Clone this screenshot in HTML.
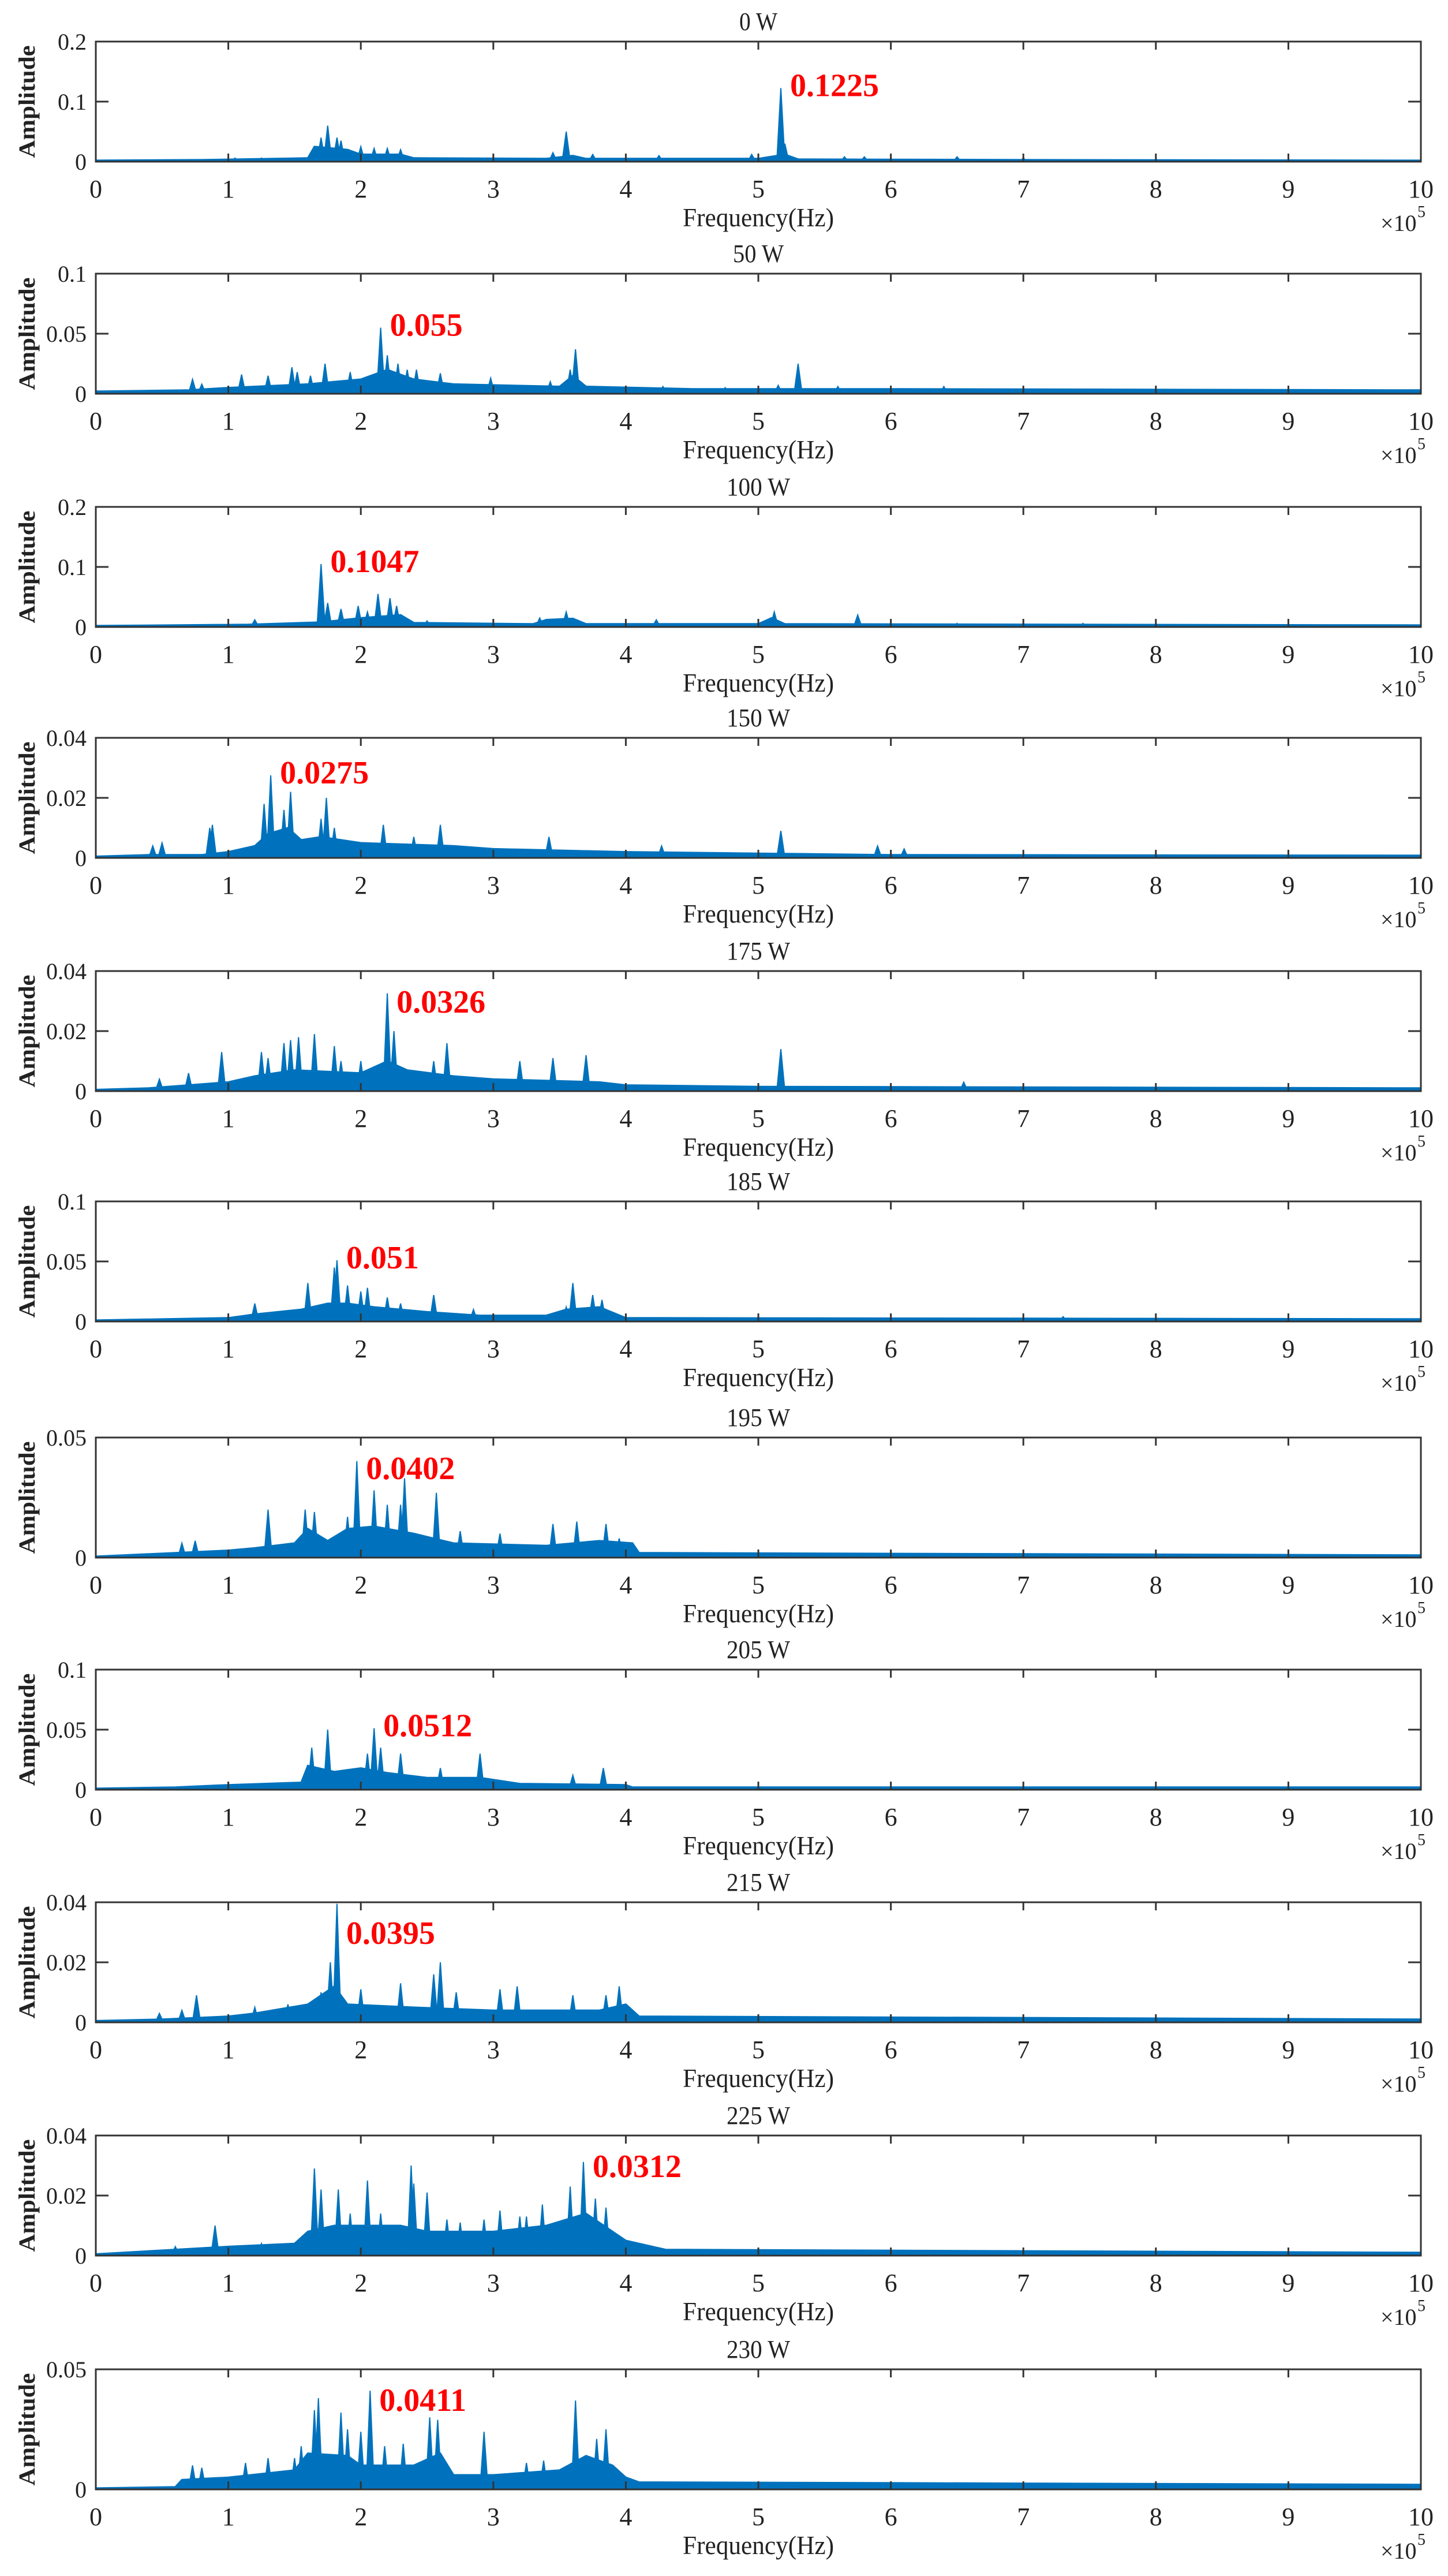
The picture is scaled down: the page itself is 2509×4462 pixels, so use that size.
<!DOCTYPE html>
<html><head><meta charset="utf-8">
<style>
html,body{margin:0;padding:0;background:#fff;}
svg{display:block;}
text{font-family:"Liberation Serif",serif;}
</style></head>
<body>
<svg id="fig" width="2509" height="4462" viewBox="0 0 2509 4462" xmlns="http://www.w3.org/2000/svg"></svg>
<script>
// ---- data ----
const panelTitles = ["0 W","50 W","100 W","150 W","175 W","185 W","195 W","205 W","215 W","225 W","230 W"];
const yMaxValues = [0.2,0.1,0.2,0.04,0.04,0.1,0.05,0.1,0.04,0.04,0.05];
const yTickValues = [[0,0.1,0.2],[0,0.05,0.1],[0,0.1,0.2],[0,0.02,0.04],[0,0.02,0.04],[0,0.05,0.1],[0,0.05],[0,0.05,0.1],[0,0.02,0.04],[0,0.02,0.04],[0,0.05]];
const xTickValues = [0,1,2,3,4,5,6,7,8,9,10];
const peakLabels = ["0.1225","0.055","0.1047","0.0275","0.0326","0.051","0.0402","0.0512","0.0395","0.0312","0.0411"];
const peakFreqs = [5.17,2.15,1.70,1.32,2.20,1.82,1.97,2.10,1.82,3.68,2.07];

const floor0 = [[0,0.002],[0.8,0.003],[1.6,0.006],[1.65,0.025],[1.9,0.02],[2.0,0.012],[2.3,0.012],[2.4,0.006],[3.4,0.005],[3.6,0.01],[3.7,0.005],[5.0,0.005],[5.2,0.012],[5.3,0.004],[7,0.003],[10,0.002]];
const spikes0 = [[1.05,0.006],[1.25,0.006],[1.7,0.04],[1.75,0.06],[1.82,0.04],[1.85,0.035],[2.0,0.025],[2.1,0.022],[2.2,0.022],[2.3,0.02],[3.45,0.015],[3.55,0.05],[3.75,0.012],[4.25,0.01],[4.95,0.012],[5.17,0.1225],[5.2,0.03],[5.65,0.008],[5.8,0.008],[6.5,0.008],[7.0,0.006]];
const floor1 = [[0,0.002],[0.7,0.003],[1.0,0.005],[1.6,0.008],[2.0,0.012],[2.2,0.02],[2.4,0.012],[2.7,0.008],[3.5,0.006],[3.6,0.015],[3.7,0.006],[4.5,0.004],[6,0.004],[10,0.003]];
const spikes1 = [[0.73,0.012],[0.8,0.008],[1.1,0.016],[1.3,0.015],[1.48,0.022],[1.52,0.018],[1.62,0.015],[1.73,0.025],[1.92,0.018],[2.15,0.055],[2.2,0.032],[2.28,0.025],[2.35,0.02],[2.42,0.02],[2.6,0.017],[2.98,0.013],[3.43,0.01],[3.58,0.02],[3.62,0.037],[4.28,0.006],[4.75,0.005],[5.15,0.007],[5.3,0.025],[5.6,0.006],[6.4,0.006]];
const floor2 = [[0,0.002],[1.15,0.004],[1.7,0.008],[2.0,0.015],[2.3,0.02],[2.4,0.007],[3.3,0.005],[3.4,0.012],[3.6,0.014],[3.7,0.005],[5,0.005],[5.1,0.015],[5.2,0.005],[10,0.003]];
const spikes2 = [[1.2,0.012],[1.7,0.1047],[1.75,0.04],[1.85,0.03],[1.98,0.035],[2.05,0.025],[2.13,0.055],[2.22,0.048],[2.27,0.035],[2.5,0.01],[3.35,0.015],[3.55,0.025],[4.23,0.012],[5.12,0.025],[5.75,0.02],[6.5,0.006],[7.0,0.006],[7.45,0.006]];
const floor3 = [[0,0.0005],[0.4,0.001],[0.8,0.001],[1.0,0.002],[1.2,0.004],[1.3,0.008],[1.45,0.01],[1.55,0.006],[1.7,0.007],[1.85,0.006],[2.0,0.005],[2.7,0.004],[3,0.003],[4,0.002],[5,0.0015],[6,0.001],[10,0.0008]];
const spikes3 = [[0.43,0.004],[0.5,0.005],[0.86,0.01],[0.88,0.011],[1.27,0.018],[1.32,0.0275],[1.42,0.016],[1.47,0.022],[1.7,0.013],[1.74,0.02],[1.8,0.01],[2.17,0.011],[2.4,0.007],[2.6,0.011],[3.42,0.007],[4.27,0.004],[5.17,0.009],[5.9,0.004],[6.1,0.003]];
const floor4 = [[0,0.0005],[0.4,0.001],[1.0,0.003],[1.2,0.005],[1.5,0.007],[2.0,0.006],[2.2,0.01],[2.35,0.007],[2.7,0.005],[3.0,0.004],[3.8,0.003],[4.0,0.002],[5,0.0015],[10,0.001]];
const spikes4 = [[0.48,0.004],[0.7,0.006],[0.95,0.013],[1.25,0.013],[1.3,0.011],[1.42,0.016],[1.47,0.017],[1.53,0.018],[1.65,0.019],[1.8,0.015],[1.85,0.01],[2.0,0.01],[2.2,0.0326],[2.25,0.02],[2.55,0.01],[2.65,0.016],[3.2,0.01],[3.45,0.011],[3.7,0.012],[5.17,0.014],[6.55,0.003]];
const floor5 = [[0,0.001],[1.0,0.003],[1.2,0.006],[1.55,0.01],[1.75,0.015],[1.9,0.015],[2.1,0.012],[2.5,0.008],[2.9,0.005],[3.4,0.005],[3.55,0.01],[3.8,0.012],[4.0,0.003],[10,0.002]];
const spikes5 = [[1.2,0.015],[1.6,0.032],[1.8,0.045],[1.82,0.051],[1.9,0.03],[2.0,0.025],[2.05,0.028],[2.2,0.02],[2.3,0.015],[2.55,0.022],[2.85,0.01],[3.55,0.012],[3.6,0.032],[3.75,0.022],[3.82,0.018],[7.3,0.004]];
const floor6 = [[0,0.0005],[0.6,0.002],[1.0,0.003],[1.2,0.004],[1.5,0.006],[1.6,0.012],[1.75,0.007],[1.9,0.012],[2.1,0.013],[2.4,0.01],[2.7,0.006],[3.4,0.005],[3.8,0.007],[4.05,0.006],[4.1,0.002],[10,0.001]];
const spikes6 = [[0.65,0.006],[0.75,0.007],[1.3,0.02],[1.58,0.02],[1.65,0.019],[1.9,0.017],[1.97,0.0402],[2.1,0.028],[2.2,0.022],[2.3,0.022],[2.33,0.033],[2.57,0.027],[2.75,0.011],[3.05,0.01],[3.45,0.014],[3.63,0.015],[3.85,0.014],[3.95,0.008]];
const floor7 = [[0,0.001],[0.6,0.002],[1.0,0.004],[1.55,0.006],[1.6,0.02],[1.8,0.015],[2.0,0.018],[2.2,0.014],[2.5,0.01],[2.9,0.01],[3.2,0.005],[4.0,0.004],[4.05,0.002],[10,0.002]];
const spikes7 = [[1.63,0.035],[1.75,0.05],[1.88,0.015],[2.05,0.03],[2.1,0.0512],[2.15,0.035],[2.3,0.03],[2.6,0.018],[2.9,0.03],[3.6,0.012],[3.83,0.018]];
const floor8 = [[0,0.0005],[0.5,0.001],[1.0,0.002],[1.2,0.003],[1.6,0.006],[1.8,0.012],[1.9,0.006],[2.4,0.005],[3,0.004],[3.8,0.004],[4.0,0.006],[4.1,0.002],[10,0.001]];
const spikes8 = [[0.48,0.003],[0.65,0.004],[0.76,0.009],[1.2,0.005],[1.45,0.006],[1.7,0.01],[1.77,0.02],[1.82,0.0395],[2.0,0.011],[2.3,0.013],[2.55,0.016],[2.6,0.02],[2.72,0.01],[3.05,0.011],[3.18,0.012],[3.6,0.009],[3.85,0.009],[3.95,0.012]];
const floor9 = [[0,0.0005],[0.6,0.002],[1.0,0.003],[1.5,0.004],[1.6,0.008],[1.8,0.01],[2.3,0.01],[2.5,0.008],[3.0,0.008],[3.4,0.01],[3.7,0.014],[3.9,0.008],[4.0,0.005],[4.3,0.002],[10,0.001]];
const spikes9 = [[0.6,0.003],[0.9,0.01],[1.25,0.004],[1.65,0.029],[1.7,0.022],[1.83,0.022],[1.92,0.014],[2.05,0.025],[2.15,0.014],[2.38,0.03],[2.4,0.024],[2.5,0.021],[2.65,0.012],[2.75,0.011],[2.93,0.012],[3.05,0.015],[3.2,0.013],[3.25,0.013],[3.37,0.017],[3.58,0.023],[3.68,0.0312],[3.77,0.019],[3.85,0.016]];
const floor10 = [[0,0.0005],[0.6,0.001],[0.65,0.004],[1.0,0.005],[1.5,0.008],[1.6,0.015],[1.9,0.014],[2.0,0.01],[2.4,0.01],[2.6,0.015],[2.7,0.006],[3,0.006],[3.5,0.008],[3.7,0.014],[3.9,0.01],[4.0,0.005],[4.1,0.003],[10,0.002]];
const spikes10 = [[0.73,0.01],[0.8,0.009],[1.13,0.011],[1.3,0.013],[1.5,0.013],[1.55,0.018],[1.65,0.033],[1.68,0.038],[1.85,0.032],[1.9,0.025],[2.0,0.024],[2.07,0.0411],[2.18,0.018],[2.32,0.019],[2.52,0.03],[2.58,0.029],[2.93,0.024],[3.25,0.011],[3.38,0.012],[3.62,0.037],[3.78,0.021],[3.85,0.025]];

const floors = [floor0,floor1,floor2,floor3,floor4,floor5,floor6,floor7,floor8,floor9,floor10];
const spikes = [spikes0,spikes1,spikes2,spikes3,spikes4,spikes5,spikes6,spikes7,spikes8,spikes9,spikes10];

// ---- layout ----
const NS = "http://www.w3.org/2000/svg";
const svg = document.getElementById('fig');
const L = 166, R = 2462, H = 208;
const panelTops = [72,474,878,1278,1682,2081,2490,2892,3295,3699,4104];
const BLUE = "#0072BD";
function mk(tag, attrs, parent){
  const e = document.createElementNS(NS, tag);
  for (const k in attrs) e.setAttribute(k, attrs[k]);
  (parent||svg).appendChild(e);
  return e;
}
function fmt(v){ return String(v); }

panelTitles.forEach((title, i) => {
  const top = panelTops[i], bot = top + H, ymax = yMaxValues[i];
  const xs = f => L + (f / 10) * (R - L);
  const ys = a => bot - Math.min(a, ymax) / ymax * H;

  const g = mk('g', {});
  
  

  const t = mk('text', {x: (L+R)/2, y: top - 20, 'text-anchor':'middle', 'font-size':44, fill:'#222', textLength: title.length*22, lengthAdjust:'spacingAndGlyphs'}, g);
  t.textContent = title;
  
  

  let d = 'M' + xs(0) + ',' + bot;
  floors[i].forEach(p => { d += ' L' + xs(p[0]).toFixed(1) + ',' + ys(p[1]).toFixed(1); });
  d += ' L' + xs(10) + ',' + bot + ' Z';
  const fa = mk('path', {d: d, fill: BLUE, stroke: BLUE, 'stroke-width': 3}, g);
  
  

  spikes[i].forEach(p => {
    const cx = xs(p[0]), w = 7;
    const sp = mk('path', {d: 'M'+(cx-w).toFixed(1)+','+bot+' L'+cx.toFixed(1)+','+ys(p[1]).toFixed(1)+' L'+(cx+w).toFixed(1)+','+bot+' Z', fill: BLUE, stroke: BLUE, 'stroke-width': 2}, g);
    
    
  });

  const box = mk('rect', {x: L, y: top, width: R-L, height: H, fill:'none', stroke:'#333', 'stroke-width':3}, g);
  
  

  xTickValues.forEach(v => {
    const x = xs(v);
    const tk = mk('path', {d:'M'+x+','+top+' v14 M'+x+','+bot+' v-14', stroke:'#333', 'stroke-width':3}, g);
    
    
    const lb = mk('text', {x: x, y: bot + 62, 'text-anchor':'middle', 'font-size':44, fill:'#222'}, g);
    lb.textContent = fmt(v);
    
    
  });
  yTickValues[i].forEach(v => {
    const y = ys(v);
    const tk = mk('path', {d:'M'+L+','+y+' h22 M'+R+','+y+' h-22', stroke:'#333', 'stroke-width':3}, g);
    
    
    const lb = mk('text', {x: L - 16, y: y + 14, 'text-anchor':'end', 'font-size':40, fill:'#222'}, g);
    lb.textContent = fmt(v);
    
    
  });

  const yl = mk('text', {x: 0, y: 0, 'text-anchor':'middle', 'font-size':40, 'font-weight':'bold', fill:'#222', transform:'translate(60,'+(top+H/2)+') rotate(-90)', textLength:195, lengthAdjust:'spacingAndGlyphs'}, g);
  yl.textContent = 'Amplitude';
  
  

  const xl = mk('text', {x: (L+R)/2, y: bot + 112, 'text-anchor':'middle', 'font-size':46, fill:'#222', textLength:262, lengthAdjust:'spacingAndGlyphs'}, g);
  xl.textContent = 'Frequency(Hz)';
  
  

  const ex = mk('text', {x: 2392, y: bot + 120, 'font-size':40, fill:'#222'}, g);
  ex.textContent = '×10';
  
  
  const es = mk('text', {x: 2456, y: bot + 96, 'font-size':28, fill:'#222'}, g);
  es.textContent = '5';
  
  

  let ly = ys(parseFloat(peakLabels[i])) + 14;
  if (ly < top + 60) ly = top + 72;
  const pl = mk('text', {x: xs(peakFreqs[i]) + 16, y: ly, 'font-size':56, 'font-weight':'bold', fill:'#ff0000'}, g);
  pl.textContent = peakLabels[i];
  
  
});
</script>
</body></html>
